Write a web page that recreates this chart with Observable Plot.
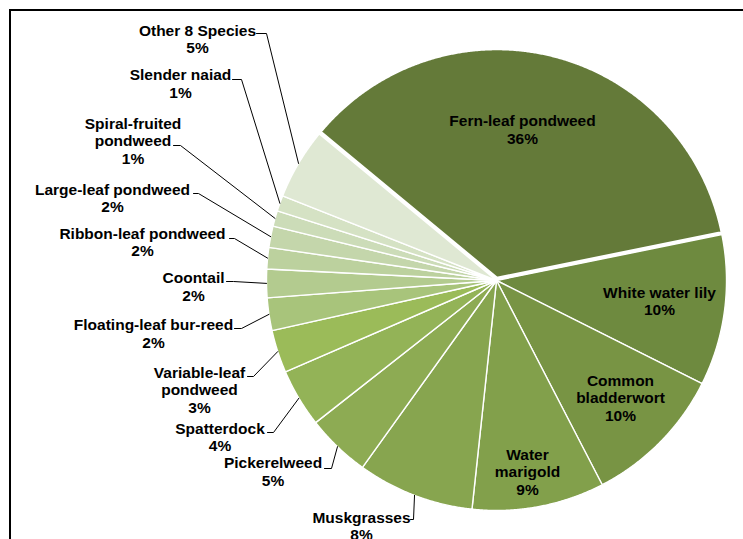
<!DOCTYPE html>
<html><head><meta charset="utf-8">
<script src="https://cdn.jsdelivr.net/npm/d3@7"></script>
<script src="https://cdn.jsdelivr.net/npm/@observablehq/plot@0.6"></script>
<style>
html,body{margin:0;padding:0;background:#fff;}
#wrap{position:relative;width:743px;height:539px;overflow:hidden;background:#fff;}
#frame{position:absolute;left:9px;top:9px;width:900px;height:700px;border-left:2px solid #000;border-top:2px solid #000;}
#chart{position:absolute;left:0;top:0;}
</style></head><body>
<div id="wrap"><div id="frame"></div><div id="chart"></div></div>
<script>
// ---- data (percent of total) ----
const species = ["Fern-leaf pondweed","White water lily","Common bladderwort","Water marigold","Muskgrasses","Pickerelweed","Spatterdock","Variable-leaf pondweed","Floating-leaf bur-reed","Coontail","Ribbon-leaf pondweed","Large-leaf pondweed","Spiral-fruited pondweed","Slender naiad","Other 8 Species"];
const shares = [35.8,10.6,10.0,9.3,8.2,4.5,4.1,3.0,2.3,2.0,1.5,1.5,1.1,1.1,5.0];
const pctLabels = ["36%","10%","10%","9%","8%","5%","4%","3%","2%","2%","2%","2%","1%","1%","5%"];
// how each category name wraps in its label
const wrappedNames = ["Fern-leaf pondweed","White water lily","Common\nbladderwort","Water\nmarigold","Muskgrasses","Pickerelweed","Spatterdock","Variable-leaf\npondweed","Floating-leaf bur-reed","Coontail","Ribbon-leaf pondweed","Large-leaf pondweed","Spiral-fruited\npondweed","Slender naiad","Other 8 Species"];
const sliceColors = ["#647a39","#6e8a3f","#789444","#82a04b","#87a54f","#8dab53","#93b357","#9bbb59","#a8c47b","#b3cb8f","#bcd19e","#c4d6ab","#ccdcb8","#d5e2c4","#dfe8d3"];

// ---- layout (pixels of the 743x539 canvas) ----
const W = 743, H = 539, CX = 496, CY = 280, R = 230;
const START_DEG = -50.4;           // angle where the first slice starts (clockwise from 12 o'clock)
const EXPLODE_PX = 2;              // first slice pulled out
// label block centres and leader stub [xStart, xEnd, y]; stub null = label inside the slice
const labelLayout = [
  {c:[522,129], stub:null},
  {c:[659,300.5], stub:null},
  {c:[620,397], stub:null},
  {c:[527,471], stub:null},
  {c:[361,525.5], stub:[410,413,519]},
  {c:[272.5,471], stub:[324,331,468]},
  {c:[219.5,436.5], stub:[267,273,432]},
  {c:[199,389], stub:[247,253,376]},
  {c:[153,333], stub:[234,241,328]},
  {c:[193,286], stub:[226,233,281]},
  {c:[142,241.5], stub:[229,234,238]},
  {c:[112,197.5], stub:[193,198,193]},
  {c:[132.5,140], stub:[173,180,145]},
  {c:[180,83], stub:[232,241,79]},
  {c:[197,38.5], stub:[256,266,33]}
];

// pixel -> pie units (radius = 1, y up)
const ux = px => (px - CX) / R;
const uy = py => (CY - py) / R;

const rows = species.map((name, i) => ({name, value: shares[i], color: sliceColors[i], i}));
const toRad = d => d * Math.PI / 180;
const arcs = d3.pie().sort(null).value(d => d.value)
  .startAngle(toRad(START_DEG)).endAngle(toRad(START_DEG) + 2 * Math.PI)(rows);

function slicePolygon(a, explode) {
  const m = (a.startAngle + a.endAngle) / 2;
  const ox = explode * Math.sin(m), oy = explode * Math.cos(m);
  const pts = [{x: ox, y: oy}];
  const n = Math.max(2, Math.ceil((a.endAngle - a.startAngle) / 0.005));
  for (let k = 0; k <= n; k++) {
    const t = a.startAngle + (a.endAngle - a.startAngle) * k / n;
    pts.push({x: ox + Math.sin(t), y: oy + Math.cos(t)});
  }
  pts.push({x: ox, y: oy});
  return pts;
}

const sliceMarks = arcs.map((a, i) => Plot.line(slicePolygon(a, i === 0 ? EXPLODE_PX / R : 0), {
  x: "x", y: "y", fill: a.data.color, stroke: "#ffffff",
  strokeWidth: i === 0 ? 3.5 : 1.4, strokeLinejoin: "round"
}));
// draw the exploded slice last so its white edge sits on top
const orderedSlices = sliceMarks.slice(1).concat([sliceMarks[0]]);

const leaders = [];
arcs.forEach((a, i) => {
  const L = labelLayout[i];
  if (!L.stub) return;
  const m = (a.startAngle + a.endAngle) / 2;
  const [xs, xe, y] = L.stub;
  leaders.push({name: a.data.name, x: ux(xs), y: uy(y)});
  leaders.push({name: a.data.name, x: ux(xe), y: uy(y)});
  leaders.push({name: a.data.name, x: Math.sin(m), y: Math.cos(m)});
});

const labels = arcs.map((a, i) => ({
  x: ux(labelLayout[i].c[0]), y: uy(labelLayout[i].c[1]),
  text: wrappedNames[i] + "\n" + pctLabels[i]
}));

const chart = Plot.plot({
  width: W, height: H, margin: 0,
  x: {domain: [ux(0), ux(W)], axis: null},
  y: {domain: [uy(H), uy(0)], axis: null},
  style: {background: "transparent", overflow: "visible"},
  marks: [
    ...orderedSlices,
    Plot.line(leaders, {x: "x", y: "y", z: "name", stroke: "#000", strokeWidth: 1}),
    Plot.text(labels, {x: "x", y: "y", text: "text", fill: "#000",
      fontSize: 15.5, fontWeight: "bold", fontFamily: "'Liberation Sans', Arial, sans-serif",
      lineHeight: 1.13, textAnchor: "middle", lineAnchor: "middle"})
  ]
});
document.getElementById("chart").appendChild(chart);
</script>
</body></html>
